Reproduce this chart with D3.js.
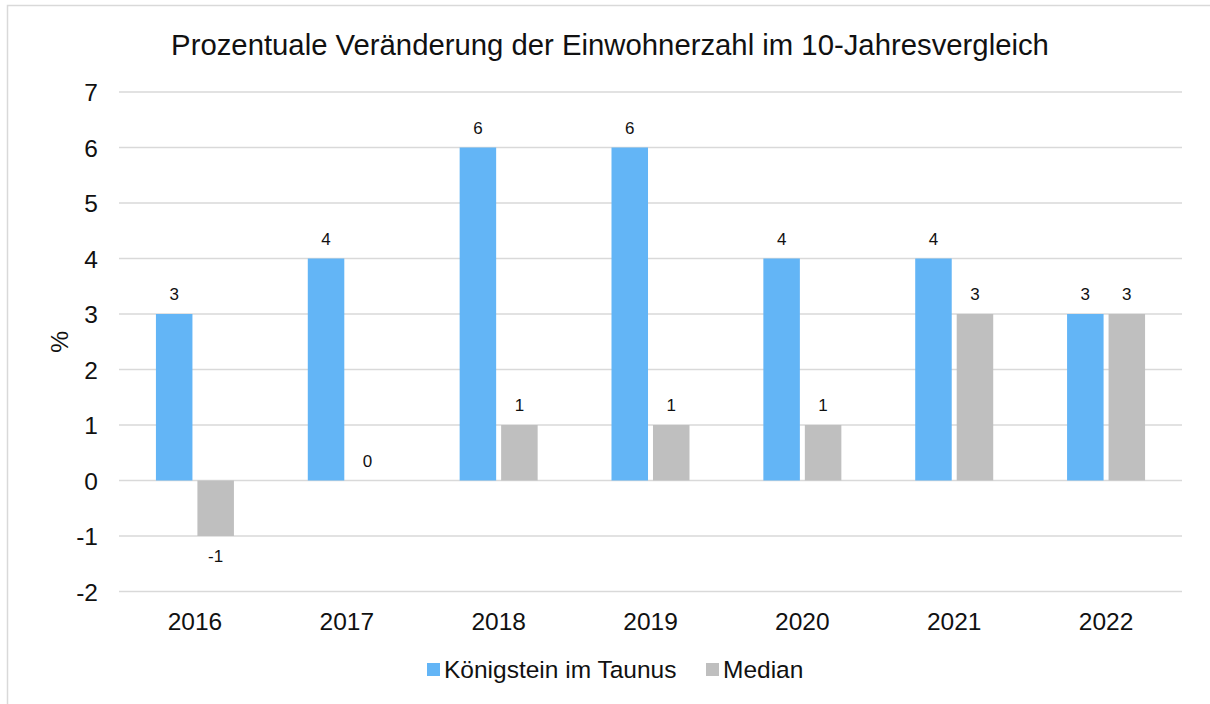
<!DOCTYPE html>
<html>
<head>
<meta charset="utf-8">
<script src="https://cdn.jsdelivr.net/npm/d3@7"></script>
<style>
  html, body { margin: 0; padding: 0; background: #fff; }
  svg { display: block; font-family: "Liberation Sans", Arial, sans-serif; }
</style>
</head>
<body>
<svg id="chart" width="1210" height="704"></svg>
<script>
// Population change (%) compared over ten years
const years = ["2016", "2017", "2018", "2019", "2020", "2021", "2022"];
const koenigstein = [3, 4, 6, 6, 4, 4, 3];
const median = [-1, 0, 1, 1, 1, 3, 3];
const seriesNames = ["Königstein im Taunus", "Median"];
const seriesColors = ["#63b5f6", "#bfbfbf"];
const yTicks = [-2, -1, 0, 1, 2, 3, 4, 5, 6, 7];

const svg = d3.select("#chart");
const W = 1210, H = 704;
const plot = { left: 119, right: 1182, top: 92, bottom: 591.5 };
const FONT = "Liberation Sans, Arial, sans-serif";

// outer frame
svg.append("rect")
  .attr("x", 7.5).attr("y", 5.5)
  .attr("width", W + 10).attr("height", H + 10)
  .attr("fill", "#fff").attr("stroke", "#d9d9d9").attr("stroke-width", 1.5);

svg.append("text")
  .attr("x", 610).attr("y", 55)
  .attr("text-anchor", "middle")
  .attr("font-size", 29.3)
  .attr("fill", "#111")
  .text("Prozentuale Veränderung der Einwohnerzahl im 10-Jahresvergleich");

const y = d3.scaleLinear().domain([-2, 7]).range([plot.bottom, plot.top]);
const x0 = d3.scaleBand().domain(years).range([plot.left, plot.right]).paddingInner(0).paddingOuter(0);
const x1 = d3.scaleBand().domain([0, 1]).range([0, 78]).paddingInner(0.12);
const groupOffset = (x0.bandwidth() - 78) / 2;

// gridlines
svg.append("g")
  .selectAll("line").data(yTicks).join("line")
  .attr("x1", plot.left).attr("x2", plot.right)
  .attr("y1", d => y(d)).attr("y2", d => y(d))
  .attr("stroke", "#d9d9d9").attr("stroke-width", 1.5);

// y axis labels
const yAxis = d3.axisLeft(y).tickValues(yTicks).tickSize(0).tickPadding(0).tickFormat(d => String(d));
const gy = svg.append("g").attr("transform", `translate(${plot.left - 21},0)`).call(yAxis);
gy.select(".domain").remove();
gy.selectAll("text").attr("font-size", 24.5).attr("fill", "#111")
  .attr("font-family", FONT).attr("dy", "0.36em");

svg.append("text")
  .attr("transform", `translate(68,${y(2.5)}) rotate(-90)`)
  .attr("text-anchor", "middle").attr("font-size", 24.5).attr("fill", "#111")
  .text("%");

// x axis labels
const xAxis = d3.axisBottom(x0).tickSize(0).tickPadding(0);
const gx = svg.append("g").attr("transform", `translate(0,${plot.bottom + 38.5})`).call(xAxis);
gx.select(".domain").remove();
gx.selectAll("text").attr("font-size", 24.5).attr("fill", "#111")
  .attr("font-family", FONT).attr("dy", 0);

// bars
const series = [koenigstein, median];
series.forEach((vals, si) => {
  const g = svg.append("g");
  g.selectAll("rect").data(vals).join("rect")
    .attr("x", (d, i) => x0(years[i]) + groupOffset + x1(si))
    .attr("width", x1.bandwidth())
    .attr("y", d => Math.min(y(d), y(0)))
    .attr("height", d => Math.abs(y(d) - y(0)))
    .attr("fill", seriesColors[si]);
  g.selectAll("text").data(vals).join("text")
    .attr("x", (d, i) => x0(years[i]) + groupOffset + x1(si) + x1.bandwidth() / 2)
    .attr("y", d => d < 0 ? y(d) + 26 : y(d) - 14)
    .attr("text-anchor", "middle").attr("font-size", 17).attr("fill", "#111")
    .text(d => String(d));
});

// legend
const legend = svg.append("g").attr("transform", "translate(427,678)");
const lx = [0, 279];
seriesNames.forEach((name, i) => {
  legend.append("rect").attr("x", lx[i]).attr("y", -15).attr("width", 13).attr("height", 13)
    .attr("fill", seriesColors[i]);
  legend.append("text").attr("x", lx[i] + 17).attr("y", 0).attr("font-size", 24.5).attr("fill", "#111")
    .text(name);
});
</script>
</body>
</html>
